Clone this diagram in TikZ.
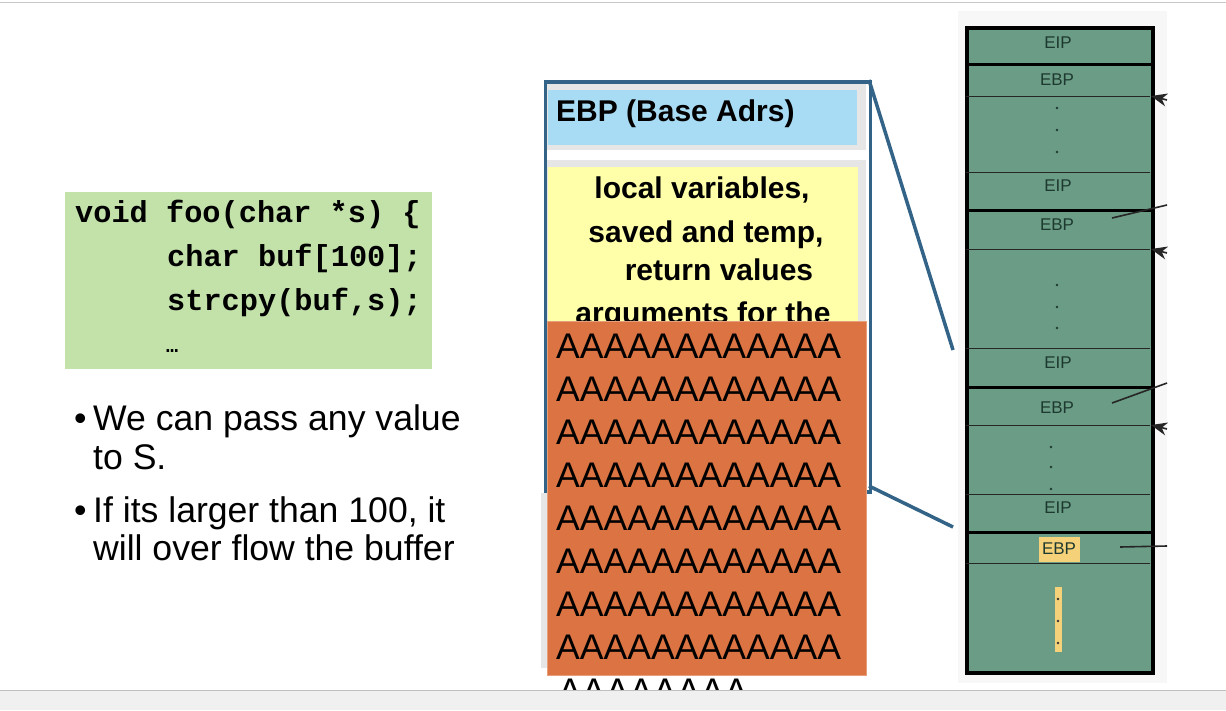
\documentclass[tikz,border=0pt]{standalone}
\usepackage{fontspec}
\setmainfont{Liberation Sans}
\newfontfamily\codefont{Liberation Mono}
\usetikzlibrary{arrows.meta}
\definecolor{codegreen}{HTML}{C2E2AA}
\definecolor{framecol}{HTML}{336487}
\definecolor{panelgray}{HTML}{E6E6E6}
\definecolor{ebpblue}{HTML}{A8DCF4}
\definecolor{locyellow}{HTML}{FFFFAA}
\definecolor{overorange}{HTML}{DB7442}
\definecolor{stackgreen}{HTML}{6A9C86}
\definecolor{stacktext}{HTML}{1E3A30}
\definecolor{hiyellow}{HTML}{F5D27A}
\definecolor{bandgray}{HTML}{F0F0F0}
\begin{document}
\begin{tikzpicture}[x=1pt,y=-1pt,
  txt/.style={inner sep=0pt, anchor=base west},
  ctxt/.style={inner sep=0pt, anchor=base},
  codetxt/.style={txt, font=\fontsize{30.3}{36}\selectfont\codefont\bfseries},
  bullettxt/.style={txt, font=\fontsize{35.6}{40}\selectfont},
  boxtxt/.style={ctxt, font=\fontsize{30}{34}\selectfont\bfseries},
  atxt/.style={txt, font=\fontsize{35.6}{40}\selectfont},
  stk/.style={inner sep=0pt, anchor=center, text=stacktext, font=\fontsize{17}{20}\selectfont},
  framel/.style={draw=framecol, line width=3.5pt},
  thinsep/.style={draw=black!85, line width=1pt},
  thicksep/.style={draw=black, line width=3pt},
  ptr/.style={draw=black!85, line width=1.6pt},
  ptrin/.style={ptr, -{Stealth[length=16pt,width=13pt,inset=5pt]}},
  sdot/.style={circle, fill=stacktext, inner sep=0pt, minimum size=2.6pt}
]
\useasboundingbox (0,0) rectangle (1226,710);
\fill[white] (0,0) rectangle (1226,710);
\draw[black!22, line width=1pt] (0,2) -- (1226,2);

% code box
\node[fill=codegreen, inner sep=0pt, minimum width=367pt, minimum height=177pt, anchor=north west] (code) at (65,192) {};
\node[codetxt] (c1) at (75,222) {void foo(char *s) \{};
\node[codetxt] (c2) at (167,266) {char buf[100];};
\node[codetxt] (c3) at (167,310) {strcpy(buf,s);};
\node[txt, font=\fontsize{20}{24}\selectfont\codefont\bfseries] (c4) at (166,352) {…};

% bullets
\node[bullettxt] (b1) at (74,430) {•};
\node[bullettxt] (t1) at (93,430) {We can pass any value};
\node[bullettxt] (t1b) at (93,469) {to S.};
\node[bullettxt] (b2) at (74,522) {•};
\node[bullettxt] (t2) at (93,522) {If its larger than 100, it};
\node[bullettxt] (t2b) at (93,560) {will over flow the buffer};

% right stack panel
\fill[black!3] (958,11) rectangle (1167,683);
\node[fill=stackgreen, draw=black, line width=3.5pt, inner sep=0pt, minimum width=186pt, minimum height=645pt, anchor=north west] (stack) at (965,26) {};
\draw[thicksep] (965,64) -- (1151,64);
\draw[thicksep] (965,210) -- (1151,210);
\draw[thicksep] (965,387) -- (1151,387);
\draw[thicksep] (965,532) -- (1151,532);
\draw[thinsep] (966,96) -- (1150,96);
\draw[thinsep] (966,172) -- (1150,172);
\draw[thinsep] (966,249) -- (1150,249);
\draw[thinsep] (966,348) -- (1150,348);
\draw[thinsep] (966,425) -- (1150,425);
\draw[thinsep] (966,494) -- (1150,494);
\draw[thinsep] (966,563) -- (1150,563);
\node[stk] (eip1) at (1058,43) {EIP};
\node[stk] (ebp1) at (1057,80) {EBP};
\node[stk] (eip2) at (1058,186) {EIP};
\node[stk] (ebp2) at (1057,225) {EBP};
\node[stk] (eip3) at (1058,363) {EIP};
\node[stk] (ebp3) at (1057,408) {EBP};
\node[stk] (eip4) at (1058,508) {EIP};
\node[stk, fill=hiyellow, minimum width=41pt, minimum height=25pt] (ebp4) at (1059,549) {EBP};
\foreach \i/\yy in {1/108,2/130,3/152} \node[sdot] (da\i) at (1057,\yy) {};
\foreach \i/\yy in {1/285,2/307,3/328} \node[sdot] (db\i) at (1057,\yy) {};
\foreach \i/\yy in {1/447,2/467,3/489} \node[sdot] (dc\i) at (1051,\yy) {};
\node[fill=hiyellow, inner sep=0pt, minimum width=7pt, minimum height=65pt] (ybar) at (1058,619.5) {};
\foreach \i/\yy in {1/599,2/621,3/643} \node[sdot, fill=black!80] (dd\i) at (1058,\yy) {};

% pointers at right edge
\coordinate (pA) at (1167,100);
\coordinate (pAe) at (1151,96);
\coordinate (pB) at (1167,253);
\coordinate (pBe) at (1151,249);
\coordinate (pC) at (1167,429);
\coordinate (pCe) at (1151,425);
\draw[ptrin] (pA) -- (pAe);
\draw[ptrin] (pB) -- (pBe);
\draw[ptrin] (pC) -- (pCe);
\coordinate (qA) at (1112,218);
\coordinate (qAe) at (1167,205);
\coordinate (qB) at (1112,403);
\coordinate (qBe) at (1167,383);
\coordinate (qC) at (1120,547);
\coordinate (qCe) at (1167,546);
\draw[ptr] (qA) -- (qAe);
\draw[ptr] (qB) -- (qBe);
\draw[ptr] (qC) -- (qCe);

% middle frame
\fill[panelgray] (546,82) rectangle (866,150);
\node[fill=ebpblue, inner sep=0pt, minimum width=309pt, minimum height=55pt, anchor=north west] (ebpbox) at (548,90) {};
\node[txt, font=\fontsize{30}{34}\selectfont\bfseries] (ebpt) at (556,121) {EBP (Base Adrs)};
\fill[white] (546,150) rectangle (866,160);
\fill[panelgray] (546,160) rectangle (866,490);
\node[fill=locyellow, inner sep=0pt, minimum width=310pt, minimum height=323pt, anchor=north west] (locbox) at (548,167) {};
\node[boxtxt] (l1) at (702,198) {local variables,};
\node[boxtxt] (l2) at (706,242) {saved and temp,};
\node[boxtxt] (l3) at (719,280) {return values};
\node[boxtxt] (l4) at (703,323) {arguments for the};
\node[draw=framecol, line width=3.5pt, inner sep=0pt, minimum width=325pt, minimum height=410pt, anchor=north west] (frame) at (543.5,80) {};
\coordinate (frTR) at (869,80);
\coordinate (frBR) at (869,486);
\coordinate (stkA) at (953,350);
\coordinate (stkB) at (953,527);
\draw[framel] (frTR) -- (stkA);
\draw[framel] (frBR) -- (stkB);

% overflow
\fill[panelgray] (541,493) rectangle (700,668);
\node[fill=overorange, draw=overorange!70!white, line width=0.6pt, inner sep=0pt, minimum width=319pt, minimum height=354pt, anchor=north west] (ovf) at (547,321) {};
\foreach \i in {0,...,7} {
  \node[atxt] (a\i) at (556,{358+43.1*\i}) {AAAAAAAAAAAA};
}
\node[atxt] (a8) at (558,703) {AAAAAAAA};

% bottom band
\fill[bandgray] (0,690) rectangle (1226,710);
\draw[black!25, line width=1pt] (0,690) -- (1226,690);
\end{tikzpicture}
\end{document}
